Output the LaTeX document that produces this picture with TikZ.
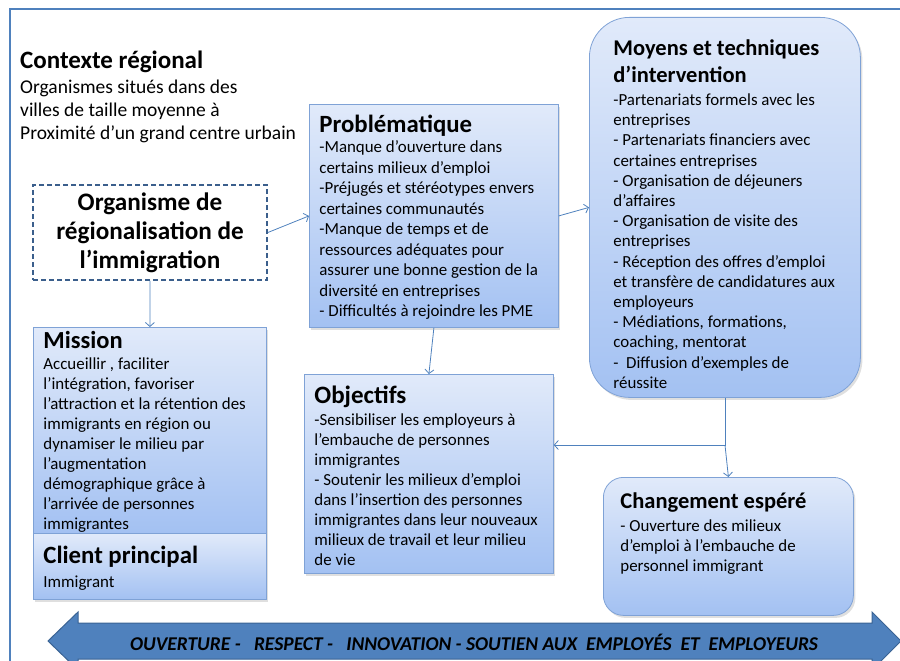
\documentclass[tikz,border=0pt]{standalone}
\usepackage{fontspec}
\setmainfont{Carlito}
\usepackage{tikz}
\usetikzlibrary{arrows.meta, shadows, calc}
\definecolor{frameblue}{HTML}{4F81BD}
\definecolor{boxtop}{HTML}{E1EAFA}
\definecolor{boxbottom}{HTML}{A3C1F2}
\definecolor{boxline}{HTML}{7FA2D6}
\definecolor{dashblue}{HTML}{3B5F8C}
\definecolor{bannerfill}{HTML}{4F81BD}
\definecolor{bannerline}{HTML}{3A6394}

\begin{document}
\begin{tikzpicture}[x=1pt, y=-1pt,
  box/.style={rectangle, anchor=north west, draw=boxline, line width=0.8pt, top color=boxtop, bottom color=boxbottom, inner xsep=10pt, inner ysep=0pt, font=\fontsize{16.9}{20}\selectfont, drop shadow={shadow xshift=2pt, shadow yshift=-2.5pt, opacity=0.25}},
  orgbox/.style={rectangle, draw=dashblue, line width=1.8pt, dash pattern=on 5pt off 3pt, fill=white, minimum width=234pt, minimum height=95pt, align=center, font=\fontsize{25.2}{29}\selectfont\bfseries},
  link/.style={-{Straight Barb[length=4pt, width=9pt]}, draw=frameblue, line width=0.8pt},
  banner/.style={fill=bannerfill, draw=bannerline, line width=1pt}
]
  \useasboundingbox (0,0) rectangle (900,661);
  \draw[frameblue, line width=1.8pt] (10,680) -- (10,9) -- (920,9);

  \node[anchor=north west, inner sep=0pt, font=\fontsize{19.5}{23}\selectfont] (ctx) at (20,45) {\parbox[t]{290pt}{\raggedright\rule{0pt}{23pt}{\bfseries\fontsize{25}{29}\selectfont Contexte régional}\\[2pt]
    Organismes situés dans des\\
    villes de taille moyenne à\\
    Proximité d’un grand centre urbain}};

  \node[orgbox] (org) at (150,232.5) {Organisme de\\régionalisation de\\l’immigration};

  \node[box, font=\fontsize{16.9}{20.5}\selectfont] (prob) at (309,104) {\parbox[t][223pt][t]{229pt}{\raggedright\rule{0pt}{28pt}{\bfseries\fontsize{24.8}{29}\selectfont Problématique}\\
    -Manque d’ouverture dans\\
    certains milieux d’emploi\\
    -Préjugés et stéréotypes envers\\
    certaines communautés\\
    -Manque de temps et de\\
    ressources adéquates pour\\
    assurer une bonne gestion de la\\
    diversité en entreprises\\
    - Difficultés à rejoindre les PME}};

  \node[box] (mission) at (33,327) {\parbox[t][206pt][t]{213pt}{\raggedright\rule{0pt}{21pt}{\bfseries\fontsize{24.5}{29}\selectfont Mission}\\[1pt]
    Accueillir , faciliter\\
    l’intégration, favoriser\\
    l’attraction et la rétention des\\
    immigrants en région ou\\
    dynamiser le milieu par\\
    l’augmentation\\
    démographique grâce à\\
    l’arrivée de personnes\\
    immigrantes}};

  \node[box] (client) at (33,533) {\parbox[t][66pt][t]{213pt}{\raggedright\rule{0pt}{30pt}{\bfseries\fontsize{24.8}{29}\selectfont Client principal}\\[4pt]
    Immigrant}};

  \node[box] (obj) at (304,374) {\parbox[t][199pt][t]{229pt}{\raggedright\rule{0pt}{29pt}{\bfseries\fontsize{25}{29}\selectfont Objectifs}\\[2pt]
    -Sensibiliser les employeurs à\\
    l’embauche de personnes\\
    immigrantes\\
    - Soutenir les milieux d’emploi\\
    dans l’insertion des personnes\\
    immigrantes dans leur nouveaux\\
    milieux de travail et leur milieu\\
    de vie}};

  \node[box, rounded corners=40pt, font=\fontsize{16.9}{20.2}\selectfont] (moy) at (589,17) {\parbox[t][380pt][t]{251pt}{\raggedright\leftskip=14pt\rule{0pt}{38pt}{\bfseries\fontsize{22.5}{27}\selectfont Moyens et techniques\\ d’intervention\par}\vspace{3pt}
    -Partenariats formels avec les\\
    entreprises\\
    - Partenariats financiers avec\\
    certaines entreprises\\
    - Organisation de déjeuners\\
    d’affaires\\
    - Organisation de visite des\\
    entreprises\\
    - Réception des offres d’emploi\\
    et transfère de candidatures aux\\
    employeurs\\
    - Médiations, formations,\\
    coaching, mentorat\\
    -\ \ Diffusion d’exemples de\\
    réussite}};

  \node[box, rounded corners=20pt] (chg) at (603,477) {\parbox[t][138pt][t]{230pt}{\raggedright\leftskip=7pt\rule{0pt}{31pt}{\bfseries\fontsize{22.5}{27}\selectfont Changement espéré}\\[3pt]
    - Ouverture des milieux\\
    d’emploi à l’embauche de\\
    personnel immigrant}};

  \coordinate (split) at (725,445);
  \draw[link] (org.east) -- (prob.west);
  \draw[link] (prob.east) -- (moy.west);
  \draw[link] (org.south) -- (mission.north);
  \draw[link] (prob.south) -- (obj.north);
  \draw[link] (moy.south) |- (split -| obj.east);
  \draw[link] (split) -- (chg.north);

  \draw[banner] (48,641) -- (78,612) -- (78,623) -- (872,623) -- (872,612) -- (901,641) -- (872,670) -- (872,659) -- (78,659) -- (78,670) -- cycle;
  \node[font=\fontsize{19.5}{23}\selectfont\bfseries\itshape] (motto) at (474,642) {OUVERTURE -\ \ \ RESPECT -\ \ \ INNOVATION - SOUTIEN AUX\ \ EMPLOYÉS\ \ ET\ \ EMPLOYEURS};
\end{tikzpicture}
\end{document}
